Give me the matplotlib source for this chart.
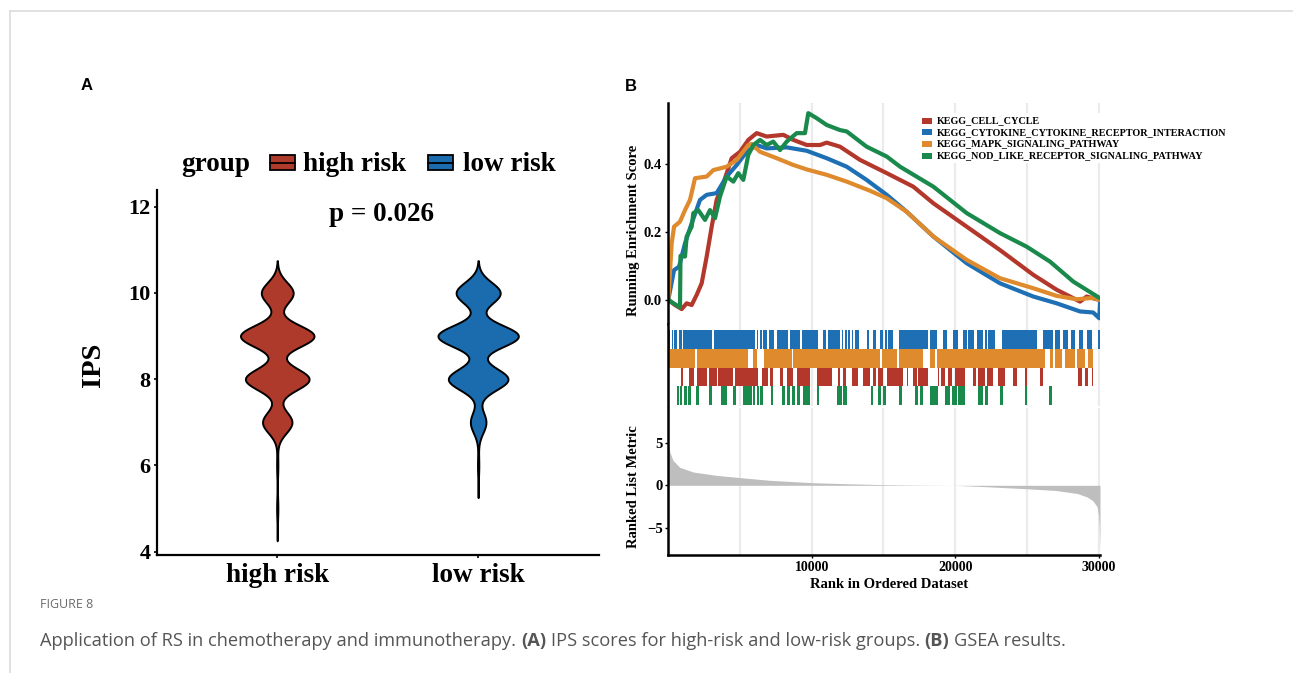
import numpy as np
import matplotlib.pyplot as plt
from matplotlib.patches import Rectangle
from matplotlib.lines import Line2D

plt.rcParams['font.family'] = ['Liberation Serif', 'DejaVu Serif']

W, H = 1293, 673

# ---------------- panel A data: IPS score counts per group ----------------
groups = ["high risk", "low risk"]
group_colors = ["#AE3A2B", "#1B6CAE"]
ips_levels = [5, 6, 7, 8, 9, 10]
high_risk_counts = [1, 1, 24, 52, 60, 26]
low_risk_counts = [0, 1, 12, 46, 62, 34]
p_label = "p = 0.026"

# ---------------- panel B data: GSEA ----------------
gene_sets = ["KEGG_CELL_CYCLE",
             "KEGG_CYTOKINE_CYTOKINE_RECEPTOR_INTERACTION",
             "KEGG_MAPK_SIGNALING_PATHWAY",
             "KEGG_NOD_LIKE_RECEPTOR_SIGNALING_PATHWAY"]
set_colors = ["#B3382B", "#1E6FB3", "#DE8A2D", "#1A8A4C"]
n_genes = 30100

cell_rank = [0, 467, 933, 1280, 1630, 1980, 2327, 2676, 3025, 3370, 3835, 4420, 5000, 5580,
             6160, 6860, 8020, 8720, 9650, 10580, 11045, 11975, 13370, 15230, 16160, 17085,
             18485, 20810, 23130, 25450, 27080, 28710, 29170, 29870, 30100]
cell_es = [0, -0.015, -0.027, -0.01, -0.015, 0.015, 0.049, 0.128, 0.216, 0.295, 0.344, 0.418,
           0.437, 0.472, 0.492, 0.482, 0.487, 0.472, 0.457, 0.457, 0.464, 0.452, 0.413, 0.374,
           0.354, 0.334, 0.285, 0.216, 0.147, 0.074, 0.03, -0.005, 0.01, 0.002, 0.0]

cyto_rank = [0, 400, 750, 1165, 1630, 2210, 2676, 3370, 4070, 4770, 5460, 6160, 6860, 8255,
             9650, 11045, 12440, 13830, 15230, 16625, 18485, 20810, 23130, 25450, 27080,
             28710, 29620, 30050, 30100]
cyto_es = [0, 0.088, 0.098, 0.167, 0.226, 0.295, 0.31, 0.315, 0.364, 0.398, 0.437, 0.457,
           0.447, 0.45, 0.44, 0.418, 0.393, 0.354, 0.31, 0.26, 0.187, 0.108, 0.049, 0.01,
           -0.01, -0.034, -0.037, -0.054, -0.01]

mapk_rank = [0, 237, 400, 816, 1165, 1513, 1862, 2676, 3140, 4070, 4770, 5580, 5814, 6394,
             7560, 8720, 9650, 11045, 12440, 14065, 15230, 16625, 18485, 20810, 23130, 25450,
             27080, 28480, 29620, 30100]
mapk_es = [0, 0.167, 0.216, 0.231, 0.265, 0.295, 0.359, 0.364, 0.383, 0.393, 0.413, 0.457,
           0.46, 0.437, 0.418, 0.398, 0.385, 0.369, 0.349, 0.322, 0.30, 0.26, 0.187, 0.118,
           0.064, 0.0345, 0.012, 0.002, 0.006, 0.0]

nod_rank = [0, 816, 850, 1165, 1280, 1630, 1745, 2090, 2560, 2908, 3257, 3605, 4070, 4535,
            4880, 5230, 5580, 5930, 6394, 6860, 7320, 7790, 8255, 8950, 9530, 9760, 10350,
            11045, 11975, 12440, 13830, 15230, 16160, 18485, 20810, 23130, 24990, 26615,
            28240, 30100]
nod_es = [0, -0.022, 0.13, 0.128, 0.187, 0.216, 0.256, 0.265, 0.236, 0.265, 0.241, 0.305,
          0.364, 0.349, 0.374, 0.354, 0.428, 0.457, 0.472, 0.457, 0.467, 0.442, 0.467, 0.492,
          0.492, 0.551, 0.536, 0.516, 0.501, 0.497, 0.452, 0.423, 0.393, 0.334, 0.256, 0.197,
          0.157, 0.113, 0.054, 0.005]

# gene-set hit blocks (start rank, end rank) in the rug
cyto_hits = [(0, 116), (232, 349), (418, 627), (744, 930), (1046, 3021), (3184, 6042),
             (6159, 6275), (6391, 6507), (6623, 6856), (7042, 7367), (7553, 8366),
             (8483, 9180), (9296, 10458), (10807, 10993), (11155, 11969), (12085, 12201),
             (12317, 12433), (12503, 12666), (12782, 12898), (13014, 13317), (13828, 13968),
             (14293, 14479), (14757, 14990), (15106, 15222), (15338, 15641), (16105, 18127),
             (18243, 18708), (19127, 19405), (19870, 20219), (20567, 20800), (20916, 21311),
             (21497, 21962), (22078, 22194), (22310, 22775), (23240, 25680), (26098, 26842),
             (26958, 27307), (27539, 27888), (28051, 28353), (28656, 28934), (29166, 29515),
             (29980, 30100)]
mapk_hits = [(0, 1859), (2022, 5578), (5880, 6159), (6670, 8599), (8715, 14757),
             (14874, 15919), (16105, 17779), (18243, 18592), (18755, 26261), (26610, 26842),
             (26958, 27423), (27655, 28353), (28469, 29050), (29282, 29631)]
cell_hits = [(883, 1046), (1441, 1789), (2022, 2719), (2858, 3370), (3486, 4532),
             (4648, 6275), (6507, 6972), (7088, 7321), (7785, 8018), (8250, 8715),
             (8947, 9877), (10342, 11388), (11853, 11969), (12201, 12387), (12782, 13247),
             (13549, 14060), (14293, 14479), (14594, 14990), (15222, 16384), (16617, 16733),
             (17081, 17314), (17430, 18127), (18824, 18894), (19010, 19289), (19522, 19754),
             (19986, 20684), (21265, 21451), (21613, 22078), (22194, 22659), (23008, 23472),
             (24053, 24286), (24867, 25029), (25913, 26098), (28585, 28818), (29050, 29282),
             (29515, 29631)]
nod_hits = [(627, 767), (813, 930), (1116, 1278), (1394, 1557), (1929, 2115), (2858, 3021),
            (3649, 4067), (4532, 4695), (5183, 5810), (5880, 6042), (6159, 6298),
            (6391, 6577), (7135, 7274), (7925, 8134), (8250, 8483), (8599, 8831),
            (8947, 9180), (9366, 9877), (10342, 10505), (11736, 12085), (12201, 12433),
            (14107, 14293), (14641, 14827), (14990, 15176), (16105, 16268), (17198, 17430),
            (17546, 17779), (18243, 18824), (19289, 19638), (19754, 20103), (20219, 20684),
            (21613, 21962), (22078, 22310), (23124, 23310), (24867, 25029), (26563, 26749)]

metric_rank = [0, 100, 330, 800, 1740, 3370, 5000, 7090, 10000, 12500, 15000, 17500, 19900,
               22000, 25000, 27000, 28500, 29200, 29600, 29900, 30000, 30050, 30100]
metric_value = [5.0, 3.9, 2.9, 2.1, 1.55, 1.16, 0.9, 0.58, 0.31, 0.18, 0.08, 0.03, 0.0,
                -0.15, -0.4, -0.6, -0.95, -1.36, -1.8, -2.5, -3.5, -4.8, -7.5]

caption_title = "FIGURE 8"
caption_runs = [("Application of RS in chemotherapy and immunotherapy.", "normal"),
                ("(A)", "bold"),
                ("IPS scores for high-risk and low-risk groups.", "normal"),
                ("(B)", "bold"),
                ("GSEA results.", "normal")]


def box(x0, y0, x1, y1):
    return [x0 / W, 1 - y1 / H, (x1 - x0) / W, (y1 - y0) / H]


def fx(x):
    return x / W


def fy(y):
    return 1 - y / H


fig = plt.figure(figsize=(W / 100, H / 100), dpi=100)
fig.patch.set_facecolor('white')

# page frame
fig.add_artist(Line2D([fx(9.5), 1], [fy(10.5), fy(10.5)], color='#dcdcdc', lw=1.2))
fig.add_artist(Line2D([fx(9.5), fx(9.5)], [fy(10.5), 0], color='#dcdcdc', lw=1.2))

fig.text(fx(86.7), fy(86), "A", family='Liberation Sans', weight='bold', fontsize=12,
         ha='center', va='center')
fig.text(fx(631), fy(86.5), "B", family='Liberation Sans', weight='bold', fontsize=12,
         ha='center', va='center')

# ---------------- panel A ----------------
axA = fig.add_axes(box(156.7, 190, 598.7, 555))
bw = 0.25
levels = np.array(ips_levels, dtype=float)
dens = []
for counts in [high_risk_counts, low_risk_counts]:
    c = np.array(counts, dtype=float)
    present = levels[c > 0]
    yy = np.linspace(present.min() - 3 * bw, present.max() + 3 * bw, 600)
    d = (c[None, :] * np.exp(-0.5 * ((yy[:, None] - levels[None, :]) / bw) ** 2)).sum(1)
    d = d / (c.sum() * bw * np.sqrt(2 * np.pi))
    dens.append((yy, d))
dmax = max(d.max() for _, d in dens)
for i, (yy, d) in enumerate(dens):
    half = d / dmax * 0.2
    axA.fill_betweenx(yy, i + 1 - half, i + 1 + half, facecolor=group_colors[i],
                      edgecolor='black', lw=1.4, joinstyle='round')

axA.set_xlim(0.4, 2.6)
axA.set_ylim(3.92, 12.39)
axA.set_xticks([1, 2])
axA.set_xticklabels(groups, fontsize=19.5, weight='bold')
axA.set_yticks([4, 6, 8, 10, 12])
axA.set_yticklabels([str(v) for v in [4, 6, 8, 10, 12]], fontsize=16, weight='bold')
axA.tick_params(axis='both', length=2.5, width=1.2, color='black', pad=2)
axA.tick_params(axis='x', pad=3)
for s in ['top', 'right']:
    axA.spines[s].set_visible(False)
for s in ['left', 'bottom']:
    axA.spines[s].set_linewidth(1.6)
axA.text(1.52, 11.66, p_label, ha='center', va='baseline', fontsize=19.5, weight='bold')
fig.text(fx(93.3), fy(365), "IPS", rotation=90, ha='center', va='center', fontsize=20.5,
         weight='bold')

# legend of panel A
fig.text(fx(181.7), fy(171), "group", fontsize=19.5, weight='bold', va='baseline')
key_x = [270, 428]
lab_x = [303.3, 463]
for i in range(2):
    fig.add_artist(Rectangle((fx(key_x[i]), fy(170)), 25 / W, 15 / H, transform=fig.transFigure,
                             facecolor=group_colors[i], edgecolor='black', lw=1.3))
    fig.add_artist(Line2D([fx(key_x[i]), fx(key_x[i] + 25)], [fy(162.5), fy(162.5)],
                          color='black', lw=1.3))
    fig.text(fx(lab_x[i]), fy(171), groups[i], fontsize=19.5, weight='bold', va='baseline')

# ---------------- panel B ----------------
grid_kw = dict(color='#EBEBEB', lw=1.6, zorder=0)
grid_x = np.arange(5000, 30001, 5000)

axT = fig.add_axes(box(668.3, 103.3, 1100, 324))
for g in grid_x:
    axT.axvline(g, **grid_kw)
es_rank = [cell_rank, cyto_rank, mapk_rank, nod_rank]
es_val = [cell_es, cyto_es, mapk_es, nod_es]
for i in range(4):
    axT.plot(es_rank[i], es_val[i], color=set_colors[i], lw=3.0, solid_joinstyle='round')
axT.set_xlim(0, n_genes)
axT.set_ylim(-0.071, 0.58)
axT.set_xticks([])
axT.set_yticks([0, 0.2, 0.4])
axT.set_yticklabels(["0.0", "0.2", "0.4"], fontsize=10.5, weight='bold')
axT.tick_params(axis='y', length=2, width=1, pad=3)
for s in ['top', 'right', 'bottom']:
    axT.spines[s].set_visible(False)
axT.spines['left'].set_linewidth(1.8)
fig.text(fx(633.3), fy(230.8), "Running Enrichment Score", rotation=90, ha='center',
         va='center', fontsize=10.5, weight='bold')

# rug
axR = fig.add_axes(box(668.3, 324, 1100, 406))
for g in grid_x:
    axR.axvline(g, **grid_kw)
rug_rows = [(cyto_hits, 1), (mapk_hits, 2), (cell_hits, 0), (nod_hits, 3)]
for row, (hits, ci) in enumerate(rug_rows):
    ybot = 3 - row
    axR.broken_barh([(a, b - a) for a, b in hits], (ybot, 1), facecolors=set_colors[ci],
                    edgecolor='none')
axR.set_xlim(0, n_genes)
axR.set_ylim(-0.05, 4.32)
axR.set_xticks([])
axR.set_yticks([])
for s in ['top', 'right', 'bottom']:
    axR.spines[s].set_visible(False)
axR.spines['left'].set_linewidth(1.8)

# ranked list metric
axM = fig.add_axes(box(668.3, 408, 1100, 555))
axM.set_xticks(grid_x, minor=True)
axM.grid(axis='x', which='both', color='#EBEBEB', lw=1.6)
axM.set_axisbelow(True)
axM.fill_between(metric_rank, metric_value, 0, color='#BEBEBE', lw=0)
axM.set_xlim(0, n_genes)
axM.set_ylim(-8.14, 9.03)
axM.set_yticks([-5, 0, 5])
axM.set_yticklabels(["\u22125", "0", "5"], fontsize=10.5, weight='bold')
axM.set_xticks([10000, 20000, 30000])
axM.set_xticklabels(["10000", "20000", "30000"], fontsize=10, weight='bold')
axM.tick_params(axis='both', which='major', length=2, width=1, pad=2)
axM.tick_params(axis='x', which='minor', length=0)
for s in ['top', 'right']:
    axM.spines[s].set_visible(False)
for s in ['left', 'bottom']:
    axM.spines[s].set_linewidth(1.8)
fig.text(fx(633.3), fy(486.7), "Ranked List Metric", rotation=90, ha='center', va='center',
         fontsize=10.5, weight='bold')
fig.text(fx(888.8), fy(585), "Rank in Ordered Dataset", ha='center', va='center',
         fontsize=10.5, weight='bold')

# legend of panel B
fig.add_artist(Rectangle((fx(917), fy(163)), 311 / W, 50 / H, transform=fig.transFigure,
                         facecolor='white', edgecolor='none', zorder=2))
row_y = [120.7, 132.3, 144, 156]
for i in range(4):
    fig.add_artist(Rectangle((fx(921.7), fy(row_y[i] + 3)), 10 / W, 6 / H,
                             transform=fig.transFigure, facecolor=set_colors[i],
                             edgecolor='none', zorder=3))
    fig.text(fx(936.7), fy(row_y[i]), gene_sets[i], fontsize=7.3, weight='bold',
             va='center', zorder=4)

# ---------------- caption ----------------
fig.text(fx(40), fy(608), caption_title, family='Open Sans', fontsize=9, color='#6b6b6b',
         va='baseline')

renderer = fig.canvas.get_renderer()


def text_w(s, size, wt):
    t = fig.text(0, 0, s, family='Open Sans', fontsize=size, weight=wt)
    w = t.get_window_extent(renderer=renderer).width
    t.remove()
    return w


def runs_width(size):
    sp = text_w("x x", size, 'normal') - text_w("xx", size, 'normal')
    total = sum(text_w(s, size, wt) for s, wt in caption_runs)
    return total + sp * (len(caption_runs) - 1), sp


base = 11.0
tw, _ = runs_width(base)
size = base * (1030 / tw)
_, space = runs_width(size)
x = 40.0
for s, wt in caption_runs:
    fig.text(fx(x), fy(646), s, family='Open Sans', fontsize=size, weight=wt, color='#555555',
             va='baseline')
    x += text_w(s, size, wt) + space

fig.savefig("out.png", dpi=100)
